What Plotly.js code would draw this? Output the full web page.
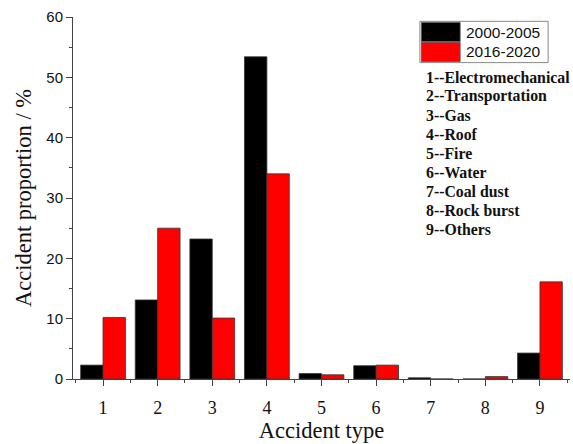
<!DOCTYPE html>
<html>
<head>
<meta charset="utf-8">
<script src="https://cdn.plot.ly/plotly-3.0.1.min.js"></script>
<style>html,body{margin:0;padding:0;background:#fff;}#chart{width:573px;height:444px;}</style>
</head>
<body>
<div id="chart"></div>
<script>
const categories = [1, 2, 3, 4, 5, 6, 7, 8, 9];
const series1Name = "2000-2005";
const series2Name = "2016-2020";
const series1 = [2.3, 13.1, 23.2, 53.4, 0.9, 2.2, 0.2, 0, 4.3];
const series2 = [10.2, 25.0, 10.1, 34.0, 0.7, 2.3, 0, 0.4, 16.1];
const typeLabels = ["1--Electromechanical", "2--Transportation", "3--Gas", "4--Roof", "5--Fire", "6--Water", "7--Coal dust", "8--Rock burst", "9--Others"];

const traces = [
  {type: 'bar', x: categories, y: series1, name: series1Name,
   marker: {color: '#000000', line: {color: '#333', width: 0.8}}, showlegend: false},
  {type: 'bar', x: categories, y: series2, name: series2Name,
   marker: {color: '#ff0000', line: {color: '#333', width: 0.8}}, showlegend: false}
];

const serif = 'Liberation Serif, Times New Roman, serif';
const sans = 'Liberation Sans, Arial, sans-serif';

const annotations = [
  {xref: 'paper', yref: 'paper', x: 0.786, y: 0.958, xanchor: 'left', yanchor: 'middle', showarrow: false,
   text: series1Name, font: {family: sans, size: 15.5, color: '#111'}},
  {xref: 'paper', yref: 'paper', x: 0.786, y: 0.904, xanchor: 'left', yanchor: 'middle', showarrow: false,
   text: series2Name, font: {family: sans, size: 15.5, color: '#111'}}
];
typeLabels.forEach((s, i) => {
  annotations.push({xref: 'paper', yref: 'paper', x: 0.706, y: 0.834 - i * 0.0525, xanchor: 'left', yanchor: 'middle',
    showarrow: false, align: 'left', text: '<b>' + s + '</b>', font: {family: serif, size: 15.8, color: '#111'}});
});

const layout = {
  width: 573, height: 444,
  margin: {l: 73, r: 3, t: 17, b: 65},
  paper_bgcolor: '#fff', plot_bgcolor: '#fff',
  barmode: 'group', bargap: 0.18, bargroupgap: 0,
  xaxis: {
    range: [0.45, 9.55], tickmode: 'array', tickvals: categories, ticktext: categories.map(String),
    showgrid: false, zeroline: false, showline: true, linecolor: '#444', linewidth: 1,
    ticks: 'outside', ticklen: 6, tickcolor: '#444', ticklabelstandoff: 6,
    minor: {dtick: 0.5, tick0: 0.5, ticks: 'outside', ticklen: 3, tickcolor: '#444'},
    tickfont: {family: serif, size: 18, color: '#111'},
    title: {text: 'Accident type', font: {family: serif, size: 22.5, color: '#111'}, standoff: 4}
  },
  yaxis: {
    range: [0, 60], dtick: 10, showgrid: false, zeroline: false, showline: true, linecolor: '#444', linewidth: 1,
    ticks: 'outside', ticklen: 6, tickcolor: '#444',
    minor: {dtick: 5, ticks: 'outside', ticklen: 3, tickcolor: '#444'},
    tickfont: {family: sans, size: 15, color: '#111'},
    title: {text: 'Accident proportion / %', font: {family: serif, size: 22.5, color: '#111'}, standoff: 8}
  },
  shapes: [
    {type: 'rect', xref: 'paper', yref: 'paper', x0: 0.698, x1: 0.956, y0: 0.874, y1: 0.988, line: {color: '#888', width: 1}, fillcolor: '#fff'},
    {type: 'rect', xref: 'paper', yref: 'paper', x0: 0.701, x1: 0.779, y0: 0.932, y1: 0.985, line: {color: '#555', width: 0.8}, fillcolor: '#000'},
    {type: 'rect', xref: 'paper', yref: 'paper', x0: 0.701, x1: 0.779, y0: 0.877, y1: 0.930, line: {color: '#555', width: 0.8}, fillcolor: '#ff0000'}
  ],
  annotations: annotations
};

Plotly.newPlot('chart', traces, layout, {displayModeBar: false, staticPlot: true});
</script>
</body>
</html>
